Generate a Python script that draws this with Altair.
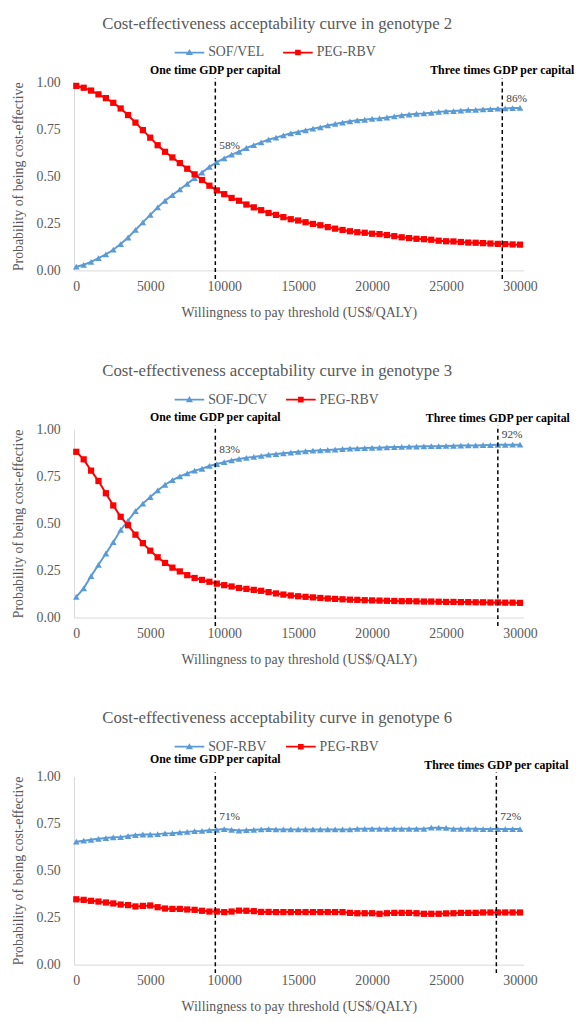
import altair as alt
import pandas as pd

FONT = "Liberation Serif"
BLUE = "#5B9BD5"
RED = "#FF0000"
GREY = "#595959"

# Willingness-to-pay thresholds (US$/QALY)
wtp = [i * 500 for i in range(61)]

# Genotype 2
g2_name = "SOF/VEL"
g2_blue = [0.02, 0.03, 0.045, 0.065, 0.085, 0.11, 0.14, 0.175, 0.215, 0.255,
           0.295, 0.335, 0.37, 0.40, 0.43, 0.46, 0.49, 0.52, 0.55, 0.575,
           0.595, 0.615, 0.63, 0.65, 0.665, 0.68, 0.695, 0.705, 0.717, 0.728,
           0.735, 0.744, 0.753, 0.76, 0.77, 0.778, 0.785, 0.792, 0.797, 0.80,
           0.805, 0.807, 0.812, 0.818, 0.824, 0.828, 0.832, 0.834, 0.837, 0.842,
           0.845, 0.846, 0.849, 0.852, 0.853, 0.855, 0.857, 0.859, 0.86, 0.862,
           0.863]
g2_red = [0.98, 0.97, 0.955, 0.935, 0.915, 0.89, 0.86, 0.825, 0.785, 0.745,
          0.705, 0.665, 0.63, 0.60, 0.57, 0.54, 0.51, 0.48, 0.45, 0.425,
          0.405, 0.385, 0.37, 0.35, 0.335, 0.32, 0.305, 0.295, 0.283, 0.272,
          0.265, 0.256, 0.247, 0.24, 0.23, 0.222, 0.215, 0.208, 0.203, 0.20,
          0.195, 0.193, 0.188, 0.182, 0.176, 0.172, 0.168, 0.166, 0.163, 0.158,
          0.155, 0.154, 0.151, 0.148, 0.147, 0.145, 0.143, 0.141, 0.14, 0.138,
          0.137]

# Genotype 3
g3_name = "SOF-DCV"
g3_blue = [0.11, 0.155, 0.22, 0.28, 0.34, 0.40, 0.465, 0.515, 0.565, 0.605,
           0.64, 0.675, 0.705, 0.73, 0.75, 0.765, 0.78, 0.79, 0.805, 0.815,
           0.825, 0.835, 0.842, 0.848, 0.853, 0.858, 0.865, 0.868, 0.872, 0.876,
           0.88, 0.883, 0.886, 0.888, 0.89, 0.892, 0.895, 0.897, 0.898, 0.90,
           0.901, 0.902, 0.904, 0.905, 0.906, 0.907, 0.908, 0.909, 0.91, 0.91,
           0.911, 0.912, 0.913, 0.914, 0.914, 0.915, 0.916, 0.917, 0.917, 0.918,
           0.918]
g3_red = [0.88, 0.84, 0.78, 0.725, 0.66, 0.595, 0.535, 0.49, 0.44, 0.395,
          0.355, 0.32, 0.29, 0.265, 0.245, 0.225, 0.21, 0.20, 0.19, 0.18,
          0.172, 0.165, 0.157, 0.152, 0.147, 0.142, 0.135, 0.128, 0.122, 0.117,
          0.113, 0.11, 0.107, 0.104, 0.101, 0.099, 0.097, 0.095, 0.094, 0.092,
          0.091, 0.09, 0.089, 0.088, 0.087, 0.087, 0.086, 0.085, 0.085, 0.084,
          0.083, 0.083, 0.082, 0.082, 0.081, 0.081, 0.08, 0.08, 0.079, 0.079,
          0.078]

# Genotype 6
g6_name = "SOF-RBV"
g6_blue = [0.653, 0.658, 0.663, 0.668, 0.672, 0.676, 0.677, 0.683, 0.688, 0.691,
           0.691, 0.693, 0.697, 0.698, 0.702, 0.705, 0.709, 0.71, 0.714, 0.716,
           0.72, 0.716, 0.712, 0.714, 0.716, 0.718, 0.72, 0.718, 0.718, 0.718,
           0.718, 0.718, 0.718, 0.718, 0.718, 0.718, 0.718, 0.718, 0.721, 0.721,
           0.721, 0.721, 0.721, 0.721, 0.721, 0.721, 0.721, 0.721, 0.727, 0.727,
           0.726, 0.721, 0.721, 0.721, 0.721, 0.72, 0.72, 0.72, 0.72, 0.72,
           0.72]
g6_red = [0.347, 0.344, 0.339, 0.335, 0.33, 0.325, 0.319, 0.316, 0.309, 0.312,
          0.314, 0.305, 0.298, 0.296, 0.296, 0.293, 0.291, 0.286, 0.282, 0.282,
          0.279, 0.282, 0.287, 0.286, 0.284, 0.28, 0.28, 0.279, 0.279, 0.279,
          0.279, 0.279, 0.279, 0.279, 0.279, 0.279, 0.279, 0.275, 0.273, 0.273,
          0.273, 0.27, 0.273, 0.275, 0.275, 0.275, 0.273, 0.27, 0.27, 0.27,
          0.272, 0.273, 0.275, 0.275, 0.275, 0.277, 0.277, 0.277, 0.277, 0.277,
          0.277]

ref_name = "PEG-RBV"

# thresholds (one and three times GDP per capita) and labelled probabilities
g2_lines = [9400, 28800]
g2_pcts = [0.575, 0.86]
g2_pct_labels = ["58%", "86%"]
g3_lines = [9400, 28500]
g3_pcts = [0.83, 0.92]
g3_pct_labels = ["83%", "92%"]
g6_lines = [9400, 28400]
g6_pcts = [0.715, 0.72]
g6_pct_labels = ["71%", "72%"]
line_labels = ["One time GDP per capital", "Three times GDP per capital"]

# legend glyphs: a short line with the marker on it (filled outlines)
TRI_PATH = "M-1,-0.06H1V0.06H-1Z M0,-0.24L0.24,0.17L-0.24,0.17Z"
SQ_PATH = "M-1,-0.06H1V0.06H-1Z M-0.19,-0.19H0.19V0.19H-0.19Z"

W, H = 456, 191


def panel(title, name, blue, red, lines, pcts, pct_labels, pct_dy, lab_dy):
    df = pd.DataFrame({
        "wtp": wtp + wtp,
        "series": [name] * len(wtp) + [ref_name] * len(wtp),
        "prob": blue + red,
    })
    dom = [name, ref_name]
    xs = alt.Scale(domain=[-150, 30250], nice=False, zero=False)
    ys = alt.Scale(domain=[0, 1], nice=False)
    x_enc = alt.X("wtp:Q", scale=xs, axis=alt.Axis(
        values=[0, 5000, 10000, 15000, 20000, 25000, 30000], format="d",
        title="Willingness to pay threshold (US$/QALY)", grid=False, ticks=False,
        tickSize=0, domainColor="#D9D9D9", labelFont=FONT, labelFontSize=14,
        labelColor=GREY, labelPadding=9, titleFont=FONT, titleFontSize=14,
        titleColor=GREY, titleFontWeight="normal", titlePadding=13))
    y_enc = alt.Y("prob:Q", scale=ys, axis=alt.Axis(
        values=[0, 0.25, 0.5, 0.75, 1], format=".2f",
        title="Probability of being cost-effective", grid=False, ticks=False,
        tickSize=0, domainColor="#D9D9D9", labelFont=FONT, labelFontSize=14,
        labelColor=GREY, labelPadding=14, titleFont=FONT, titleFontSize=14,
        titleColor=GREY, titleFontWeight="normal", titlePadding=11))
    leg = alt.Legend(orient="none", legendX=102, legendY=-45, direction="horizontal",
                     title=None, symbolSize=900, symbolOpacity=1, symbolStrokeWidth=0,
                     labelFont=FONT, labelFontSize=14, labelColor=GREY,
                     columnPadding=19, labelOffset=4)
    cscale = alt.Scale(domain=dom, range=[BLUE, RED])
    base = alt.Chart(df)
    blue_df = base.transform_filter(alt.datum.series == name)
    red_df = base.transform_filter(alt.datum.series == ref_name)
    line_b = blue_df.mark_line(strokeWidth=2, color=BLUE).encode(x=x_enc, y=y_enc)
    line_r = red_df.mark_line(strokeWidth=2, color=RED).encode(x="wtp:Q", y="prob:Q")
    pts_b = blue_df.mark_point(
        shape="triangle-up", filled=True, color=BLUE, size=46, opacity=1).encode(x="wtp:Q", y="prob:Q")
    pts_r = red_df.mark_point(
        shape="square", filled=True, color=RED, size=40, opacity=1).encode(x="wtp:Q", y="prob:Q")
    legend_layer = base.mark_point(filled=True, opacity=0, size=1).encode(
        x="wtp:Q", y="prob:Q",
        color=alt.Color("series:N", scale=cscale, legend=leg),
        shape=alt.Shape("series:N", scale=alt.Scale(domain=dom, range=[TRI_PATH, SQ_PATH]), legend=leg))
    rdf = pd.DataFrame({"wtp": lines})
    rules = alt.Chart(rdf).mark_rule(color="black", strokeWidth=1.5, strokeDash=[4, 3]).encode(
        x="wtp:Q", y=alt.datum(-0.045), y2=alt.datum(1.02))
    layers = [line_b, line_r, pts_b, pts_r, legend_layer, rules]
    for i in range(2):
        tdf = pd.DataFrame({"wtp": [lines[i]], "label": [line_labels[i]]})
        layers.append(alt.Chart(tdf).mark_text(
            font=FONT, fontSize=12, fontWeight="bold", color="#000000", align="center",
            baseline="middle", dy=lab_dy[i]).encode(x="wtp:Q", y=alt.datum(1.0), text="label:N"))
        pdf = pd.DataFrame({"wtp": [lines[i]], "pct": [pcts[i]], "label": [pct_labels[i]]})
        layers.append(alt.Chart(pdf).mark_text(
            font=FONT, fontSize=11.5, color="#404040", align="left", baseline="middle",
            dx=4, dy=pct_dy[i]).encode(x="wtp:Q", y="pct:Q", text="label:N"))
    return alt.layer(*layers).properties(
        width=W, height=H,
        title=alt.TitleParams(title, font=FONT, fontSize=17, color=GREY, fontWeight="normal",
                              anchor="middle", frame="group", dx=-22, offset=5))


p2 = panel("Cost-effectiveness acceptability curve in genotype 2", g2_name, g2_blue, g2_red,
           g2_lines, g2_pcts, g2_pct_labels, [-16, -10], [-12, -12])
p3 = panel("Cost-effectiveness acceptability curve in genotype 3", g3_name, g3_blue, g3_red,
           g3_lines, g3_pcts, g3_pct_labels, [-11, -9], [-12, -11])
p6 = panel("Cost-effectiveness acceptability curve in genotype 6", g6_name, g6_blue, g6_red,
           g6_lines, g6_pcts, g6_pct_labels, [-13, -12], [-17, -11])

chart = alt.vconcat(p2, p3, p6, spacing=43).resolve_scale(
    color="independent", shape="independent"
).properties(padding={"left": 3, "top": 0, "right": 0, "bottom": 0}).configure_view(stroke=None)

chart.save("out.html", embed_options={"renderer": "svg", "actions": False})
